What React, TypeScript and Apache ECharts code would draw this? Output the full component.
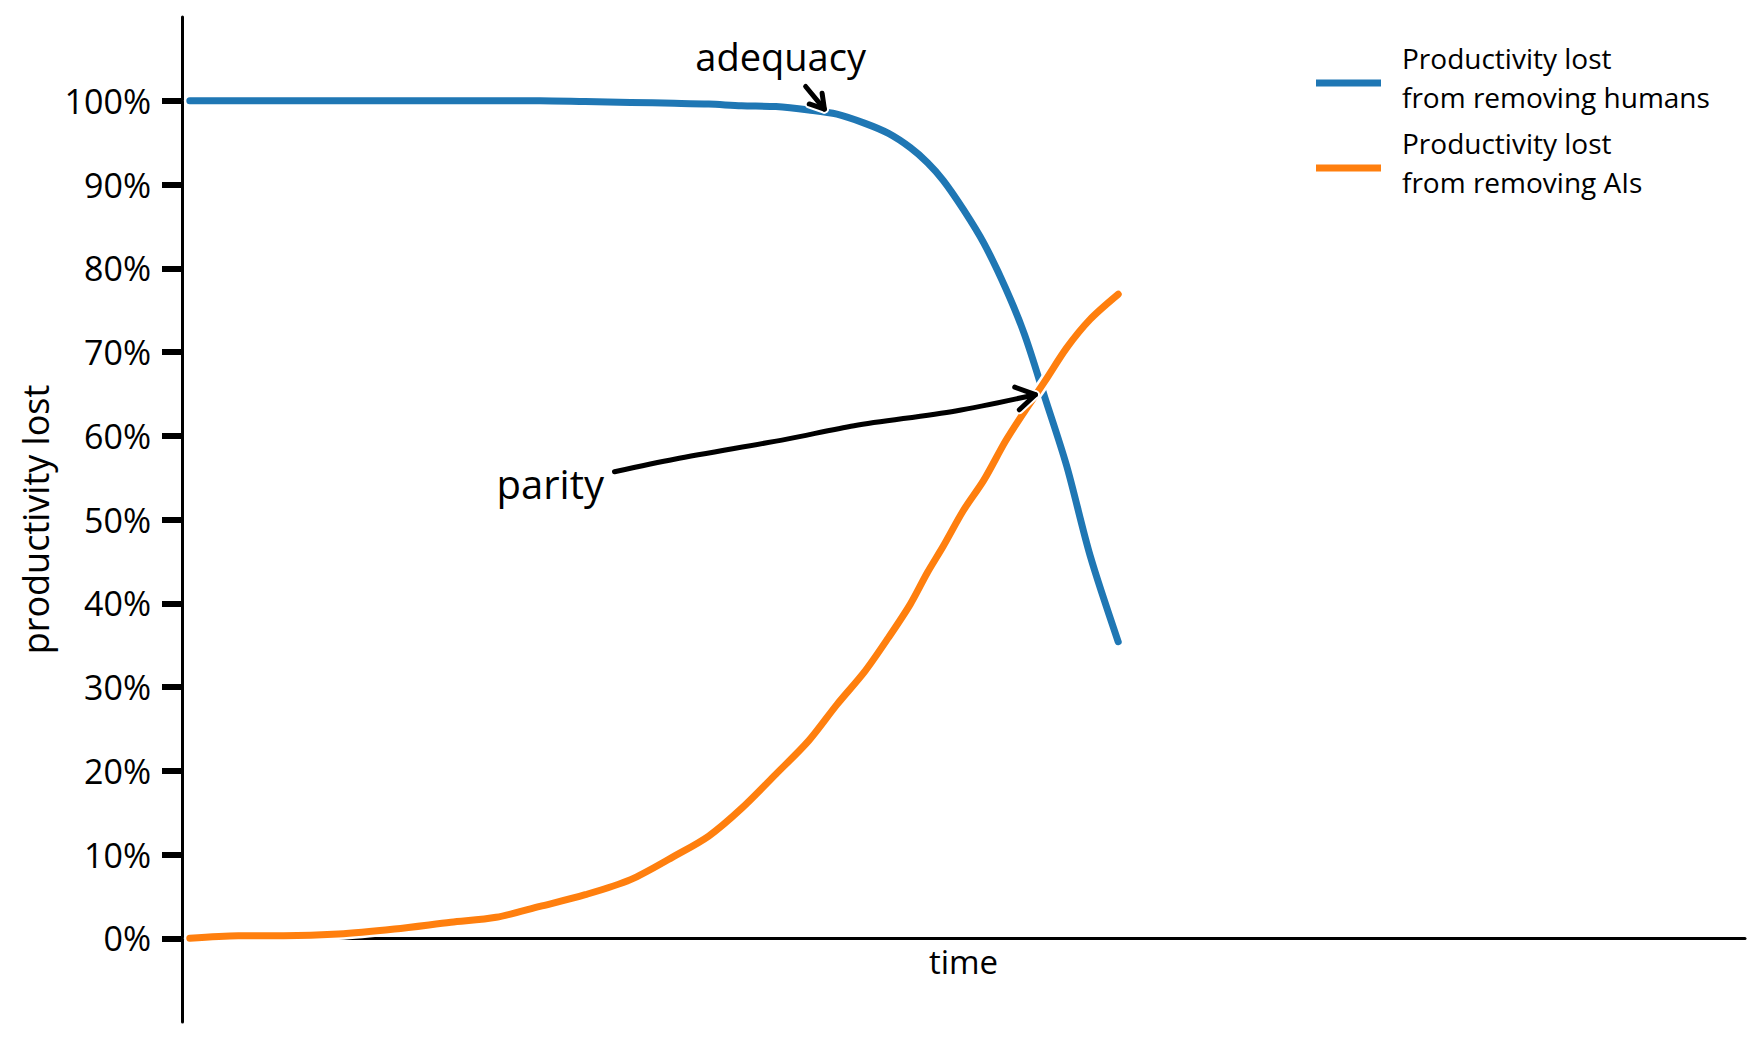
import React, { useEffect, useRef } from "react";
import * as echarts from "echarts";

// ---- data ----
const time = [0.5, 3.6, 6.5, 10, 13.6, 17.2, 20.1, 22.9, 25.8, 28.7, 31.5, 33.7, 35.8, 38, 40.1, 41.9, 43.7, 45.2, 46.6, 47.7, 48.7, 50, 51.3, 52.7, 53.9, 55.2, 56.6, 58.1, 59.9];
const humansLost = [100, 100, 100, 100, 100, 100, 100, 100, 99.9, 99.8, 99.7, 99.6, 99.4, 99.3, 98.9, 98.4, 97.3, 96.1, 94.4, 92.6, 90.5, 87.0, 83.0, 77.6, 72.1, 64.6, 56.4, 45.7, 35.4];
const aisLost = [0, 0.3, 0.3, 0.5, 1.1, 1.9, 2.5, 3.8, 5.2, 7.0, 9.8, 12.2, 15.5, 19.6, 23.6, 27.9, 31.9, 35.9, 39.9, 43.7, 46.8, 51.1, 54.7, 59.4, 62.9, 66.5, 70.5, 73.9, 76.9];
const yTicks = [0, 10, 20, 30, 40, 50, 60, 70, 80, 90, 100];

const humansName = "Productivity lost\nfrom removing humans";
const aisName = "Productivity lost\nfrom removing AIs";

const adequacyLabelAt = [38.3, 105.3];
const adequacyArrow = [[39.9, 101.7], [41.1, 99.0]];
const parityLabelAt = [27.0, 54.3];
const parityArrow = [[27.67, 55.7], [31.5, 57.2], [38.7, 59.6], [43.0, 61.2], [49.5, 62.96], [54.6, 64.9]];

const FONT = "'Open Sans', sans-serif";
const BLUE = "#1f77b4";
const ORANGE = "#ff7f0e";

function chevron(prev: number[], tip: number[], len: number, ang: number) {
  const dx = prev[0] - tip[0];
  const dy = prev[1] - tip[1];
  const d = Math.hypot(dx, dy) || 1;
  const bx = dx / d, by = dy / d;
  const rot = (a: number) => [tip[0] + len * (bx * Math.cos(a) - by * Math.sin(a)), tip[1] + len * (bx * Math.sin(a) + by * Math.cos(a))];
  return [rot(ang), tip, rot(-ang)];
}

export default function App() {
  const ref = useRef<HTMLDivElement>(null);
  useEffect(() => {
    if (!ref.current) return;
    const chart = echarts.init(ref.current, undefined, { renderer: "svg" });
    const pts = (ys: number[]) => time.map((t, i) => [t, ys[i]]);
    const outline = (ys: number[]) => ({
      type: "line",
      data: pts(ys),
      symbol: "none",
      silent: true,
      smooth: 0.3,
      lineStyle: { color: "#fff", width: 12, cap: "round", join: "round" },
      z: 2,
    });
    const main = (name: string, ys: number[], color: string) => ({
      type: "line",
      name,
      data: pts(ys),
      symbol: "none",
      smooth: 0.3,
      color,
      lineStyle: { color, width: 7, cap: "round", join: "round" },
      z: 2,
    });
    chart.setOption({
      animation: false,
      backgroundColor: "#fff",
      grid: { left: 182, right: 15, top: 17, bottom: 18, containLabel: false, outerBoundsMode: "none" },
      legend: {
        data: [humansName, aisName],
        orient: "vertical",
        left: 1311,
        top: 33,
        itemWidth: 65,
        itemHeight: 7,
        itemGap: -5,
        icon: "rect",
        selectedMode: false,
        formatter: (name: string) => name.split("\n").map((l) => `{a|${l}}`).join("\n") + "\n{s| }",
        textStyle: {
          fontFamily: FONT,
          fontSize: 28,
          lineHeight: 39,
          color: "#000",
          padding: [0, 0, 0, 16],
          rich: {
            a: { fontFamily: FONT, fontSize: 28, lineHeight: 39, color: "#000" },
            s: { fontFamily: FONT, fontSize: 8, lineHeight: 12 },
          },
        },
      },
      xAxis: {
        type: "value",
        min: 0,
        max: 100,
        name: "time",
        nameLocation: "middle",
        nameGap: -77,
        nameTextStyle: { fontFamily: FONT, fontSize: 33, color: "#000", verticalAlign: "top" },
        axisLine: { show: true, onZero: true, lineStyle: { color: "#000", width: 3 } },
        axisTick: { show: false },
        axisLabel: { show: false },
        splitLine: { show: false },
      },
      yAxis: {
        type: "value",
        min: -10,
        max: 110,
        interval: 10,
        name: "productivity lost",
        nameLocation: "middle",
        nameGap: 123,
        nameTextStyle: { fontFamily: FONT, fontSize: 36, color: "#000" },
        axisLine: { show: true, onZero: false, lineStyle: { color: "#000", width: 3 } },
        axisTick: { show: true, customValues: yTicks, length: 20, lineStyle: { color: "#000", width: 6 } },
        axisLabel: { show: true, customValues: yTicks, margin: 31, fontFamily: FONT, fontSize: 34, color: "#000", formatter: (v: number) => v + "%" },
        splitLine: { show: false },
      },
      series: [outline(humansLost), main(humansName, humansLost, BLUE), outline(aisLost), main(aisName, aisLost, ORANGE)],
    });

    const px = (p: number[]) => chart.convertToPixel({ gridIndex: 0 }, p) as number[];
    const elements: any[] = [];
    const addArrow = (path: number[][], len: number) => {
      const p = path.map(px);
      const head = chevron(p[p.length - 2], p[p.length - 1], len, 0.55);
      elements.push({ type: "polyline", z: 10, z2: 0, silent: true, shape: { points: p, smooth: 0.3 }, style: { stroke: "#fff", lineWidth: 9, fill: null, lineCap: "round", lineJoin: "round" } });
      elements.push({ type: "polyline", z: 10, z2: 0, silent: true, shape: { points: head }, style: { stroke: "#fff", lineWidth: 9, fill: null, lineCap: "round", lineJoin: "round" } });
      elements.push({ type: "polyline", z: 10, z2: 1, silent: true, shape: { points: p, smooth: 0.3 }, style: { stroke: "#000", lineWidth: 5, fill: null, lineCap: "round", lineJoin: "round" } });
      elements.push({ type: "polyline", z: 10, z2: 1, silent: true, shape: { points: head }, style: { stroke: "#000", lineWidth: 5, fill: null, lineCap: "round", lineJoin: "round" } });
    };
    addArrow(adequacyArrow, 16);
    addArrow(parityArrow, 22);
    const a = px(adequacyLabelAt);
    elements.push({ type: "text", z: 10, x: a[0], y: a[1], silent: true, style: { text: "adequacy", font: `38px ${FONT}`, fill: "#000", textAlign: "center", textVerticalAlign: "middle" } });
    const b = px(parityLabelAt);
    elements.push({ type: "text", z: 10, x: b[0], y: b[1], silent: true, style: { text: "parity", font: `40px ${FONT}`, fill: "#000", textAlign: "right", textVerticalAlign: "middle" } });
    chart.setOption({ graphic: { elements } });

    return () => chart.dispose();
  }, []);
  return <div ref={ref} style={{ position: "fixed", left: 0, top: 0, width: 1760, height: 1040, background: "#fff" }} />;
}
